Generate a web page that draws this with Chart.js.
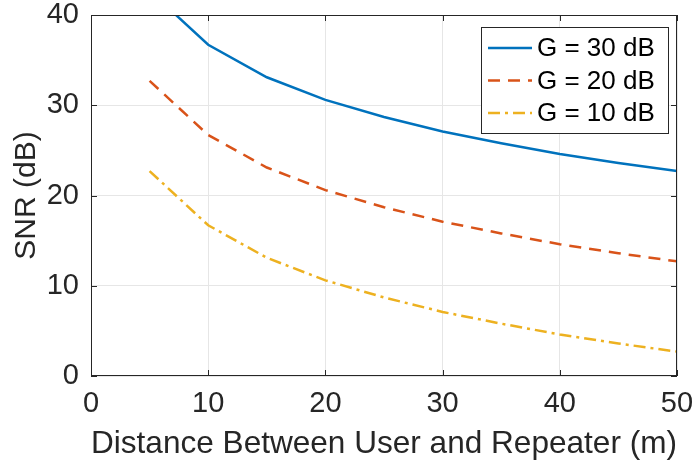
<!DOCTYPE html>
<html lang="en">
<head>
<meta charset="UTF-8" />
<title>SNR vs distance</title>
<script src="https://cdn.jsdelivr.net/npm/chart.js@4.4.0/dist/chart.umd.min.js"></script>
<style>
  html, body { margin: 0; padding: 0; background: #fff; }
  #wrap { width: 697px; height: 465px; }
</style>
</head>
<body>
<div id="wrap"><canvas id="chart" width="697" height="465"></canvas></div>
<script>
  // distances in metres
  const distance = [5, 10, 15, 20, 25, 30, 35, 40, 45, 50];
  const snr30 = [42.7, 36.7, 33.1, 30.6, 28.7, 27.1, 25.8, 24.6, 23.6, 22.7];
  const snr20 = [32.7, 26.7, 23.1, 20.6, 18.7, 17.1, 15.8, 14.6, 13.6, 12.7];
  const snr10 = [22.7, 16.7, 13.1, 10.6, 8.7, 7.1, 5.8, 4.6, 3.6, 2.7];
  const seriesNames = ['G = 30 dB', 'G = 20 dB', 'G = 10 dB'];
  const xTicks = [0, 10, 20, 30, 40, 50];
  const yTicks = [0, 10, 20, 30, 40];

  const colors = ['#0072BD', '#D95319', '#EDB120'];
  const dashes = [[], [12, 8], [12, 5, 3, 5]];
  const axisColor = '#262626';
  const fontFamily = '"Liberation Sans", Arial, sans-serif';

  function pts(ys) {
    return distance.map((d, i) => ({ x: d, y: ys[i] }));
  }

  // matlab style box, inward ticks and legend
  const matlabBox = {
    id: 'matlabBox',
    afterDraw(chart) {
      const ctx = chart.ctx;
      const a = chart.chartArea;
      const xs = chart.scales.x, ys = chart.scales.y;
      ctx.save();
      ctx.strokeStyle = axisColor;
      ctx.lineWidth = 1;
      ctx.setLineDash([]);
      ctx.strokeRect(a.left + 0.5, a.top + 0.5, a.right - a.left - 1, a.bottom - a.top - 1);
      ctx.beginPath();
      xTicks.forEach(v => {
        const px = Math.round(xs.getPixelForValue(v)) + 0.5;
        ctx.moveTo(px, a.bottom); ctx.lineTo(px, a.bottom - 6);
        ctx.moveTo(px, a.top); ctx.lineTo(px, a.top + 6);
      });
      yTicks.forEach(v => {
        const py = Math.round(ys.getPixelForValue(v)) + 0.5;
        ctx.moveTo(a.left, py); ctx.lineTo(a.left + 6, py);
        ctx.moveTo(a.right, py); ctx.lineTo(a.right - 6, py);
      });
      ctx.stroke();

      // legend
      const lx = 481, ly = 27, lw = 187, lh = 106;
      ctx.fillStyle = '#fff';
      ctx.fillRect(lx, ly, lw, lh);
      ctx.strokeStyle = axisColor;
      ctx.strokeRect(lx + 0.5, ly + 0.5, lw, lh);
      ctx.font = '26px ' + fontFamily;
      ctx.textBaseline = 'middle';
      ctx.textAlign = 'left';
      seriesNames.forEach((name, i) => {
        const cy = 48 + i * 32.5;
        ctx.strokeStyle = colors[i];
        ctx.lineWidth = 2.5;
        ctx.setLineDash(dashes[i]);
        ctx.beginPath();
        ctx.moveTo(488, cy); ctx.lineTo(532, cy);
        ctx.stroke();
        ctx.setLineDash([]);
        ctx.fillStyle = '#000';
        ctx.fillText(name, 537, cy + 1);
      });
      ctx.restore();
    }
  };

  const sets = [snr30, snr20, snr10].map((ys, i) => ({
    label: seriesNames[i],
    data: pts(ys),
    borderColor: colors[i],
    backgroundColor: colors[i],
    borderWidth: 2.5,
    borderDash: dashes[i],
    pointRadius: 0,
    tension: 0,
    fill: false
  }));

  new Chart(document.getElementById('chart'), {
    type: 'line',
    data: { datasets: sets },
    plugins: [matlabBox],
    options: {
      responsive: false,
      animation: false,
      layout: { padding: { left: 0, right: 20, top: 15, bottom: 0 } },
      plugins: { legend: { display: false }, tooltip: { enabled: false } },
      scales: {
        x: {
          type: 'linear', min: 0, max: 50,
          afterFit(s) { s.height = 89; s.paddingLeft = 0; s.paddingRight = 0; },
          afterBuildTicks(s) { s.ticks = xTicks.map(v => ({ value: v })); },
          ticks: { color: axisColor, font: { family: fontFamily, size: 29 }, padding: 11, maxRotation: 0 },
          grid: { color: '#e6e6e6', drawTicks: false },
          border: { display: false },
          title: { display: true, text: 'Distance Between User and Repeater (m)', color: axisColor,
                   font: { family: fontFamily, size: 32 }, padding: { top: 0, bottom: 2 } }
        },
        y: {
          min: 0, max: 40,
          afterFit(s) { s.width = 91; s.paddingTop = 0; s.paddingBottom = 0; },
          afterBuildTicks(s) { s.ticks = yTicks.map(v => ({ value: v })); },
          ticks: { color: axisColor, font: { family: fontFamily, size: 29 }, padding: 12 },
          grid: { color: '#e6e6e6', drawTicks: false },
          border: { display: false },
          title: { display: true, text: 'SNR (dB)', color: axisColor,
                   font: { family: fontFamily, size: 30 }, padding: { top: 9, bottom: 0 } }
        }
      }
    }
  });
</script>
</body>
</html>
